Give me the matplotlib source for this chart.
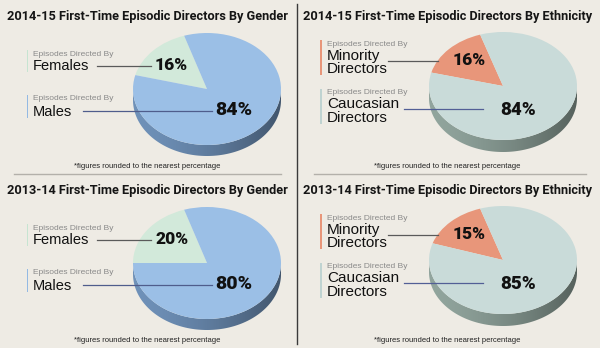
import numpy as np
import matplotlib
matplotlib.use("Agg")
import matplotlib.pyplot as plt
from matplotlib.patches import Polygon, Rectangle
from matplotlib.colors import to_rgb

# ---- data ----
titles = [
    "2014-15 First-Time Episodic Directors By Gender",
    "2014-15 First-Time Episodic Directors By Ethnicity",
    "2013-14 First-Time Episodic Directors By Gender",
    "2013-14 First-Time Episodic Directors By Ethnicity",
]
gender_labels = ["Females", "Males"]
ethnicity_labels = ["Minority\nDirectors", "Caucasian\nDirectors"]
gender_2014_15 = [16, 84]
ethnicity_2014_15 = [16, 84]
gender_2013_14 = [20, 80]
ethnicity_2013_14 = [15, 85]
footnote = "*figures rounded to the nearest percentage"
caption = "Episodes Directed By"

W, H = 600, 348
BG = "#eeebe4"
TITLE_FONT = ["Roboto", "DejaVu Sans"]
BODY_FONT = ["Liberation Sans", "DejaVu Sans"]

fig = plt.figure(figsize=(W / 100, H / 100), dpi=100, facecolor=BG)

# background layer in pixel coordinates
bg = fig.add_axes([0, 0, 1, 1])
bg.set_xlim(0, W)
bg.set_ylim(H, 0)
bg.axis("off")

# dividers
bg.plot([297, 297], [4, 344], color="#3a3a3a", lw=1.0)
bg.plot([14, 281], [174, 174], color="#b3b0aa", lw=1.0)
bg.plot([314, 586], [174, 174], color="#b3b0aa", lw=1.0)

panels = [
    dict(ox=0, oy=0, title=titles[0], values=gender_2014_15, labels=gender_labels, kind="gender"),
    dict(ox=300, oy=0, title=titles[1], values=ethnicity_2014_15, labels=ethnicity_labels, kind="eth"),
    dict(ox=0, oy=174, title=titles[2], values=gender_2013_14, labels=gender_labels, kind="gender"),
    dict(ox=300, oy=174, title=titles[3], values=ethnicity_2013_14, labels=ethnicity_labels, kind="eth"),
]

styles = {
    "gender": dict(cx=207, cy=89, rx=74, ry=56, depth=11,
                   colors=["#d2e9da", "#9bbfe6"], side="#6584a8",
                   bar=["#c6e4d1", "#93b9e3"], lines=["#5a5a5a", "#4f5d8c"]),
    "eth": dict(cx=203, cy=86, rx=74, ry=54, depth=12,
                colors=["#e8967a", "#c9dbd9"], side="#84968f",
                bar=["#e8967a", "#bfd3d1"], lines=["#5a5a5a", "#525f96"]),
}


def side_gradient(c, n=200):
    base = np.array(to_rgb(c))
    u = np.linspace(0, 1, n)
    f = 1.10 - 0.45 * u ** 1.5
    return np.clip(base[None, :] * f[:, None], 0, 1)[None, :, :]


for p in panels:
    st = styles[p["kind"]]
    ox, oy = p["ox"], p["oy"]
    cx, cy, rx, ry, d = st["cx"] + ox, st["cy"] + oy, st["rx"], st["ry"], st["depth"]
    left = (cx - rx) / W
    bottom = 1 - (cy + ry + d) / H
    ax = fig.add_axes([left, bottom, 2 * rx / W, (2 * ry + d) / H])
    ax.pie(p["values"], colors=st["colors"], startangle=108, counterclock=True,
           radius=1, wedgeprops=dict(linewidth=0, zorder=3))
    dn = d / ry
    # side wall of the disc: lower half-rim extruded downward, shaded left to right
    ts = np.linspace(np.pi, 2 * np.pi, 181)
    rim = np.column_stack([np.cos(ts), np.sin(ts)])
    wall = np.vstack([rim, (rim - [0, dn])[::-1]])
    wall_patch = Polygon(wall, closed=True, facecolor="none", edgecolor="none")
    ax.add_patch(wall_patch)
    img = ax.imshow(side_gradient(st["side"]), extent=(-1, 1, -1 - dn, 0.05),
                    aspect="auto", zorder=1, interpolation="bilinear")
    img.set_clip_path(wall_patch)
    ax.set_aspect("auto")
    ax.set_xlim(-1, 1)
    ax.set_ylim(-1 - dn, 1)
    ax.axis("off")

# overlay layer for labels and leader lines
ov = fig.add_axes([0, 0, 1, 1])
ov.set_xlim(0, W)
ov.set_ylim(H, 0)
ov.patch.set_alpha(0)
ov.axis("off")

PCT_WEIGHT = "heavy"

for p in panels:
    st = styles[p["kind"]]
    ox, oy = p["ox"], p["oy"]
    ov.text(ox + 147.5, oy + 16.5, p["title"], ha="center", va="center",
            fontsize=9.2, fontweight="bold", family=TITLE_FONT, color="#151515")
    ov.text(ox + 147, oy + 166, footnote, ha="center", va="center",
            fontsize=5.5, family=BODY_FONT, color="#222222")
    small, big = p["values"]
    if p["kind"] == "gender":
        # small slice label
        ov.add_patch(Rectangle((ox + 26.5, oy + 50), 1.8, 22, color=st["bar"][0], lw=0))
        ov.text(ox + 33, oy + 54, caption, fontsize=6, family=BODY_FONT,
                color="#8a8a8a", va="center")
        ov.text(ox + 33, oy + 66, p["labels"][0], fontsize=10.5, family=BODY_FONT,
                color="#111111", va="center")
        ov.plot([ox + 97, ox + 151], [oy + 66, oy + 66], color=st["lines"][0], lw=0.9)
        ov.text(ox + 155, oy + 64.5, f"{small}%", fontsize=12.5, fontweight=PCT_WEIGHT,
                family=TITLE_FONT, color="#111111", va="center")
        # large slice label
        ov.add_patch(Rectangle((ox + 26.5, oy + 95), 1.8, 23, color=st["bar"][1], lw=0))
        ov.text(ox + 33, oy + 99, caption, fontsize=6, family=BODY_FONT,
                color="#8a8a8a", va="center")
        ov.text(ox + 33, oy + 111.5, p["labels"][1], fontsize=10.5, family=BODY_FONT,
                color="#111111", va="center")
        ov.plot([ox + 83, ox + 212], [oy + 111, oy + 111], color=st["lines"][1], lw=0.9)
        ov.text(ox + 215, oy + 110, f"{big}%", fontsize=14, fontweight=PCT_WEIGHT,
                family=TITLE_FONT, color="#111111", va="center")
    else:
        ov.add_patch(Rectangle((ox + 20, oy + 40), 1.8, 35, color=st["bar"][0], lw=0))
        ov.text(ox + 27, oy + 44, caption, fontsize=6, family=BODY_FONT,
                color="#8a8a8a", va="center")
        ov.text(ox + 27, oy + 62.5, p["labels"][0], fontsize=11, family=BODY_FONT,
                color="#111111", va="center", linespacing=0.95)
        ov.plot([ox + 88, ox + 138], [oy + 61, oy + 61], color=st["lines"][0], lw=0.9)
        ov.text(ox + 153, oy + 60, f"{small}%", fontsize=12.5, fontweight=PCT_WEIGHT,
                family=TITLE_FONT, color="#111111", va="center")
        ov.add_patch(Rectangle((ox + 20, oy + 89), 1.8, 35, color=st["bar"][1], lw=0))
        ov.text(ox + 27, oy + 92, caption, fontsize=6, family=BODY_FONT,
                color="#8a8a8a", va="center")
        ov.text(ox + 27, oy + 111, p["labels"][1], fontsize=11, family=BODY_FONT,
                color="#111111", va="center", linespacing=0.95)
        ov.plot([ox + 104, ox + 183], [oy + 109, oy + 109], color=st["lines"][1], lw=0.9)
        ov.text(ox + 200, oy + 110, f"{big}%", fontsize=13.5, fontweight=PCT_WEIGHT,
                family=TITLE_FONT, color="#111111", va="center")

fig.savefig("out.png", dpi=100, facecolor=BG)
